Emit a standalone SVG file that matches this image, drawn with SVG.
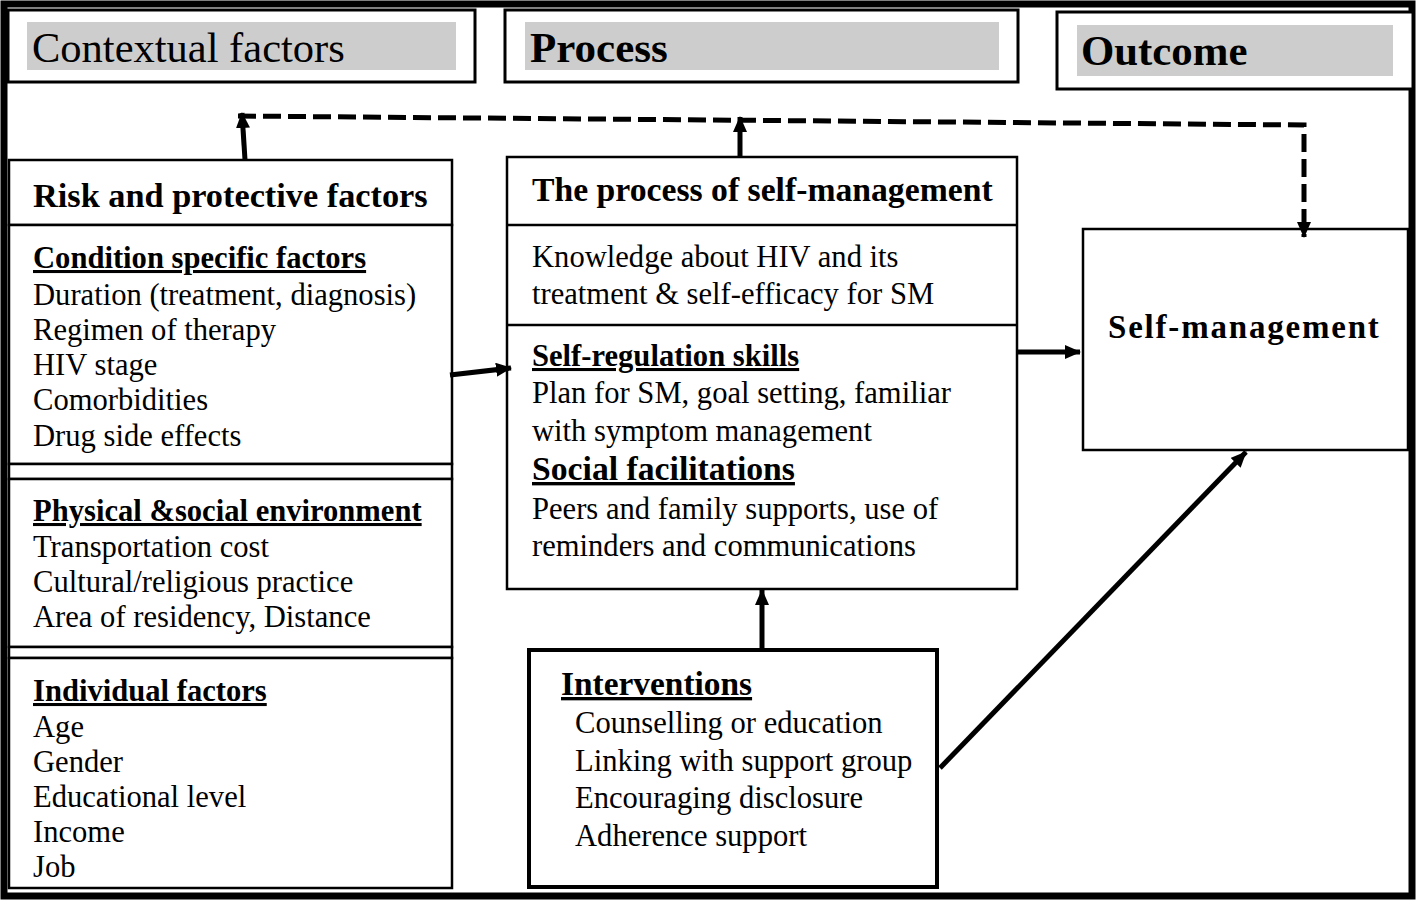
<svg xmlns="http://www.w3.org/2000/svg" width="1418" height="903" viewBox="0 0 1418 903">
<defs>
<style>
text{font-family:"Liberation Serif","Times New Roman",serif;fill:#000}
.b{font-weight:bold}
.u{text-decoration:underline}
.box{fill:#fff;stroke:#000;stroke-width:2.5}
.hdr{fill:#fff;stroke:#000;stroke-width:3}
.gray{fill:#cdcdcd}
.t30{font-size:30.6px}
.conn{fill:none;stroke:#000;stroke-width:5}
</style>
<marker id="ah" viewBox="0 0 16 14" refX="15" refY="7" markerWidth="16" markerHeight="14" markerUnits="userSpaceOnUse" orient="auto">
<path d="M0,0 L16,7 L0,14 Z" fill="#000"/>
</marker>
</defs>
<rect x="0" y="0" width="1418" height="903" fill="#fff"/>
<rect x="4" y="4" width="1408" height="892" fill="none" stroke="#000" stroke-width="7"/>

<g id="hdr-context">
<rect class="hdr" x="8" y="10" width="467" height="72"/>
<rect class="gray" x="27" y="22" width="429" height="48"/>
<text x="32" y="62" font-size="42.5">Contextual factors</text>
</g>
<g id="hdr-process">
<rect class="hdr" x="505" y="10" width="513" height="72"/>
<rect class="gray" x="525" y="22" width="474" height="48"/>
<text class="b" x="530" y="62" font-size="43">Process</text>
</g>
<g id="hdr-outcome">
<rect class="hdr" x="1057" y="12" width="356" height="77"/>
<rect class="gray" x="1077" y="25" width="316" height="51"/>
<text class="b" x="1081" y="65" font-size="42.8">Outcome</text>
</g>

<g id="risk">
<rect class="box" x="9" y="160" width="443" height="65"/>
<text class="b" x="33" y="207" font-size="34.3">Risk and protective factors</text>
<rect class="box" x="9" y="225" width="443" height="239"/>
<text class="t30 b u" x="33" y="268">Condition specific factors</text>
<text class="t30" x="33" y="305">Duration (treatment, diagnosis)</text>
<text class="t30" x="33" y="340">Regimen of therapy</text>
<text class="t30" x="33" y="375">HIV stage</text>
<text class="t30" x="33" y="410">Comorbidities</text>
<text class="t30" x="33" y="446">Drug side effects</text>
<rect class="box" x="9" y="464" width="443" height="15"/>
<rect class="box" x="9" y="479" width="443" height="168"/>
<text class="t30 b u" x="33" y="521">Physical &amp;social environment</text>
<text class="t30" x="33" y="557">Transportation cost</text>
<text class="t30" x="33" y="592">Cultural/religious practice</text>
<text class="t30" x="33" y="627">Area of residency, Distance</text>
<rect class="box" x="9" y="647" width="443" height="11"/>
<rect class="box" x="9" y="658" width="443" height="230"/>
<text class="t30 b u" x="33" y="701">Individual factors</text>
<text class="t30" x="33" y="737">Age</text>
<text class="t30" x="33" y="772">Gender</text>
<text class="t30" x="33" y="807">Educational level</text>
<text class="t30" x="33" y="842">Income</text>
<text class="t30" x="33" y="877">Job</text>
</g>

<g id="process">
<rect class="box" x="507" y="157" width="510" height="432"/>
<line x1="507" y1="225" x2="1017" y2="225" stroke="#000" stroke-width="2.5"/>
<line x1="507" y1="325" x2="1017" y2="325" stroke="#000" stroke-width="2.5"/>
<text class="b" x="532" y="201" font-size="33.7">The process of self-management</text>
<text class="t30" x="532" y="267">Knowledge about HIV and its</text>
<text class="t30" x="532" y="304">treatment &amp; self-efficacy for SM</text>
<text class="t30 b u" x="532" y="366">Self-regulation skills</text>
<text class="t30" x="532" y="403">Plan for SM, goal setting, familiar</text>
<text class="t30" x="532" y="441">with symptom management</text>
<text class="b u" x="532" y="480" font-size="33.7">Social facilitations</text>
<text class="t30" x="532" y="519">Peers and family supports, use of</text>
<text class="t30" x="532" y="556">reminders and communications</text>
</g>

<g id="outcome">
<rect class="box" x="1083" y="229" width="325" height="221"/>
<text class="b" x="1108" y="338" font-size="33" letter-spacing="1.8">Self-management</text>
</g>

<g id="interventions">
<rect x="529" y="650" width="408" height="237" fill="#fff" stroke="#000" stroke-width="4"/>
<text class="b u" x="561" y="695" font-size="33.4">Interventions</text>
<text class="t30" x="575" y="733">Counselling or education</text>
<text class="t30" x="575" y="771">Linking with support group</text>
<text class="t30" x="575" y="808">Encouraging disclosure</text>
<text class="t30" x="575" y="846">Adherence support</text>
</g>

<g id="connectors">
<polyline class="conn" points="238,116 1304,125 1304,237" stroke-dasharray="18,7" marker-end="url(#ah)"/>
<line class="conn" x1="245" y1="160" x2="242" y2="113" marker-end="url(#ah)"/>
<line class="conn" x1="740" y1="157" x2="740" y2="117" marker-end="url(#ah)"/>
<line class="conn" x1="450" y1="375" x2="511" y2="368" marker-end="url(#ah)"/>
<line class="conn" x1="1017" y1="352" x2="1080" y2="352" marker-end="url(#ah)"/>
<line class="conn" x1="762" y1="650" x2="762" y2="590" marker-end="url(#ah)"/>
<line class="conn" x1="940" y1="768" x2="1246" y2="452" marker-end="url(#ah)"/>
</g>
</svg>
